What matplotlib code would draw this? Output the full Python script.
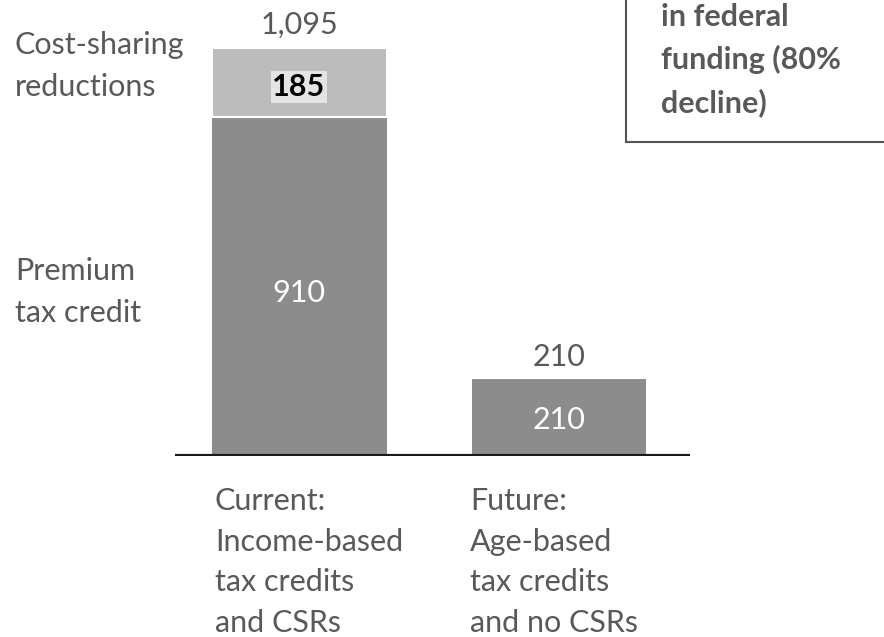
import matplotlib.pyplot as plt
import matplotlib.patches as mpatches

categories = ["Current:\nIncome-based\ntax credits\nand CSRs", "Future:\nAge-based\ntax credits\nand no CSRs"]
premium_tax_credit = [910, 210]
cost_sharing = [185, 0]
totals = [1095, 210]
series_names = ["Cost-sharing\nreductions", "Premium\ntax credit"]
box_text = "in federal\nfunding (80%\ndecline)"

FONT = "Lato"
plt.rcParams['font.family'] = [FONT, 'DejaVu Sans']
W, H = 884, 637
fig = plt.figure(figsize=(W / 100, H / 100), dpi=100)
ax = fig.add_axes([175 / W, (H - 456) / H, (690 - 175) / W, 456 / H])

dark = "#8c8c8c"
light = "#bcbcbc"
txt = "#595959"
x = [0, 1]
width = 0.674
ax.bar(x, premium_tax_credit, width=width, color=dark, edgecolor="none")
ax.bar(x, cost_sharing, width=width, bottom=premium_tax_credit, color=light, edgecolor="white", linewidth=1.5)
ax.set_xlim(-0.48, 1.505)
ax.set_ylim(0, 1224)
ax.axis("off")
ax.axhline(0, color="#1a1a1a", linewidth=3, xmin=0, xmax=1)

fs = 22


def ftext(px, py, s, step=42.0, **kw):
    """Place text lines at pixel positions (from top-left), first-line baseline at py."""
    kw.setdefault("fontsize", fs)
    kw.setdefault("color", txt)
    kw.setdefault("va", "baseline")
    for k, line in enumerate(s.split("\n")):
        fig.text(px / W, 1 - (py + k * step) / H, line, **kw)


# value labels
ftext(299, 34, f"{totals[0]:,}", ha="center")
ftext(559, 366, f"{totals[1]:,}", ha="center")
ftext(299, 302, f"{premium_tax_credit[0]}", ha="center", color="white")
ftext(559, 429, f"{premium_tax_credit[1]}", ha="center", color="white")
ftext(299, 96, f"{cost_sharing[0]}", ha="center", color="black", fontweight="bold",
      bbox=dict(boxstyle="square,pad=0.05", facecolor="#e4e4e4", edgecolor="none"))

# left series labels
ftext(15, 54, series_names[0], ha="left")
ftext(15, 280, series_names[1], ha="left")

# category labels
ftext(215, 510, categories[0], ha="left", step=40.7)
ftext(470, 510, categories[1], ha="left", step=40.7)

# annotation box at top right
rect = mpatches.Rectangle((626 / W, 1 - 142 / H), 0.5, 0.5, transform=fig.transFigure,
                          facecolor="white", edgecolor="#555555", linewidth=1.5)
fig.add_artist(rect)
ftext(661, 26, box_text, ha="left", fontweight="bold", step=43)

fig.savefig("out.png", dpi=100)
